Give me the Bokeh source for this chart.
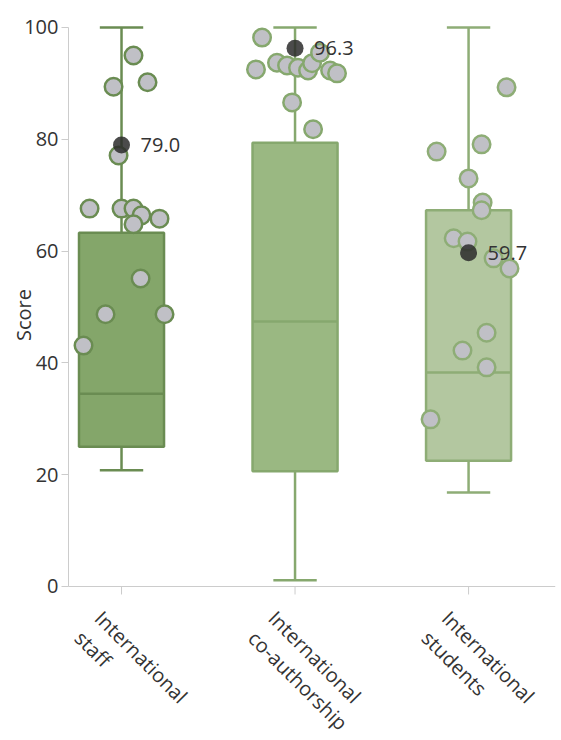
import math
from bokeh.plotting import figure
from bokeh.models import ColumnDataSource, FixedTicker, Range1d
from bokeh.core.properties import value
from bokeh.embed import file_html
from bokeh.resources import INLINE

categories = ["International\nstaff", "International\nco-authorship", "International\nstudents"]

# box statistics: low whisker, q1, median, q3, high whisker
box_low = [20.8, 1.1, 16.8]
box_q1 = [25.0, 20.6, 22.5]
box_median = [34.5, 47.4, 38.3]
box_q3 = [63.3, 79.4, 67.3]
box_high = [100.0, 100.0, 100.0]

box_fill = ["#84a66a", "#9ab882", "#b3c7a0"]
box_line = ["#6a8c52", "#86a86e", "#8ead76"]

# individual scores (jitter offsets)
staff_scores = [95.0, 89.4, 90.2, 77.1, 67.6, 67.6, 67.6, 66.4, 64.8, 65.8, 55.1, 48.7, 48.7, 43.1]
staff_jitter = [0.069, -0.046, 0.150, -0.017, -0.184, 0.0, 0.069, 0.115, 0.069, 0.219, 0.110, -0.092, 0.248, -0.219]
coauth_scores = [98.2, 92.5, 93.7, 93.2, 92.8, 92.3, 93.6, 95.5, 92.3, 91.8, 86.6, 81.8]
coauth_jitter = [-0.190, -0.225, -0.104, -0.046, 0.017, 0.075, 0.098, 0.144, 0.202, 0.242, -0.017, 0.104]
students_scores = [77.8, 79.1, 73.0, 68.7, 67.3, 62.3, 61.7, 58.7, 56.9, 45.4, 42.2, 39.2, 29.9, 89.3]
students_jitter = [-0.184, 0.075, 0.0, 0.081, 0.075, -0.086, -0.006, 0.144, 0.236, 0.104, -0.035, 0.104, -0.219, 0.219]

highlight_scores = [79.0, 96.3, 59.7]
highlight_labels = ["79.0", "96.3", "59.7"]

y_ticks = [0, 20, 40, 60, 80, 100]
y_title = "Score"

FONT = "Open Sans"
TEXT = "#333333"
AXIS = "#cccccc"
FS = "20px"

xs = list(range(len(categories)))

# the frame fills the canvas; the y axis is pinned at X_AXIS and the x axis drawn at y = 0
X_MIN, X_AXIS, X_MAX = -0.6974, -0.3055, 2.501
Y_MIN, Y_MAX_FRAME = -27.55, 104.83
p = figure(width=561, height=740, output_backend="svg", toolbar_location=None,
           x_range=Range1d(X_MIN, X_MAX), y_range=Range1d(Y_MIN, Y_MAX_FRAME),
           x_axis_location=None,
           min_border_left=0, min_border_top=0, min_border_right=6, min_border_bottom=0)
p.outline_line_color = None
p.grid.grid_line_color = None
p.background_fill_color = "white"

px_per_unit = 740 / (Y_MAX_FRAME - Y_MIN)

box_src = ColumnDataSource(dict(x=xs, low=box_low, q1=box_q1, med=box_median, q3=box_q3,
                                high=box_high, fill=box_fill, line=box_line))

# x axis line and ticks
p.segment(x0=[X_AXIS], y0=[0], x1=[X_MAX], y1=[0], line_color=AXIS, line_width=1)
p.segment(x0=xs, y0=[0] * 3, x1=xs, y1=[-8 / px_per_unit] * 3, line_color=AXIS, line_width=1)

# whiskers
p.segment(x0="x", y0="q3", x1="x", y1="high", source=box_src, line_color="line", line_width=2.5)
p.segment(x0="x", y0="low", x1="x", y1="q1", source=box_src, line_color="line", line_width=2.5)
cap = 0.125
p.segment(x0=[x - cap for x in xs], y0=box_high, x1=[x + cap for x in xs], y1=box_high,
          line_color=box_line, line_width=2.5)
p.segment(x0=[x - cap for x in xs], y0=box_low, x1=[x + cap for x in xs], y1=box_low,
          line_color=box_line, line_width=2.5)
# boxes
p.vbar(x="x", width=0.49, bottom="q1", top="q3", source=box_src,
       fill_color="fill", line_color="line", line_width=2.5)
half = 0.245
p.segment(x0=[x - half for x in xs], y0=box_median, x1=[x + half for x in xs], y1=box_median,
          line_color=box_line, line_width=2.5)

# points
groups = [(staff_scores, staff_jitter), (coauth_scores, coauth_jitter), (students_scores, students_jitter)]
for i, (scores, jit) in enumerate(groups):
    p.scatter(x=[i + j for j in jit], y=scores, size=17.5, fill_color="#c0c0c6",
              line_color=box_line[i], line_width=2.5)

# highlighted values
p.scatter(x=xs, y=highlight_scores, size=17, fill_color="#2b2b2b", fill_alpha=0.85,
          line_color=None)
p.text(x=xs, y=highlight_scores, text=highlight_labels, x_offset=19,
       text_font=value(FONT), text_font_size=FS, text_color=TEXT,
       text_baseline="middle", text_align="left")

# category labels, rotated
p.text(x=xs, y=[0] * 3, text=categories, x_offset=-13.3, y_offset=18.3,
       angle=-math.pi / 4, text_align="left", text_baseline="top",
       text_font=value(FONT), text_font_size=FS, text_color=TEXT, text_line_height=1.05)

# y axis
yaxis = p.yaxis[0]
yaxis.fixed_location = X_AXIS
yaxis.bounds = (0, 100)
yaxis.ticker = FixedTicker(ticks=y_ticks)
yaxis.minor_tick_line_color = None
yaxis.major_tick_in = 0
yaxis.major_tick_out = 7
yaxis.axis_line_color = AXIS
yaxis.major_tick_line_color = AXIS
yaxis.major_label_text_font = FONT
yaxis.major_label_text_font_size = FS
yaxis.major_label_text_color = TEXT
yaxis.major_label_standoff = 3

# y axis title beside the 0-100 span
p.text(x=[X_AXIS], y=[50], text=[y_title], x_offset=-45, y_offset=8,
       angle=math.pi / 2, text_align="center", text_baseline="middle",
       text_font=value(FONT), text_font_size=FS, text_color=TEXT)

open("out.html", "w").write(file_html(p, INLINE))
